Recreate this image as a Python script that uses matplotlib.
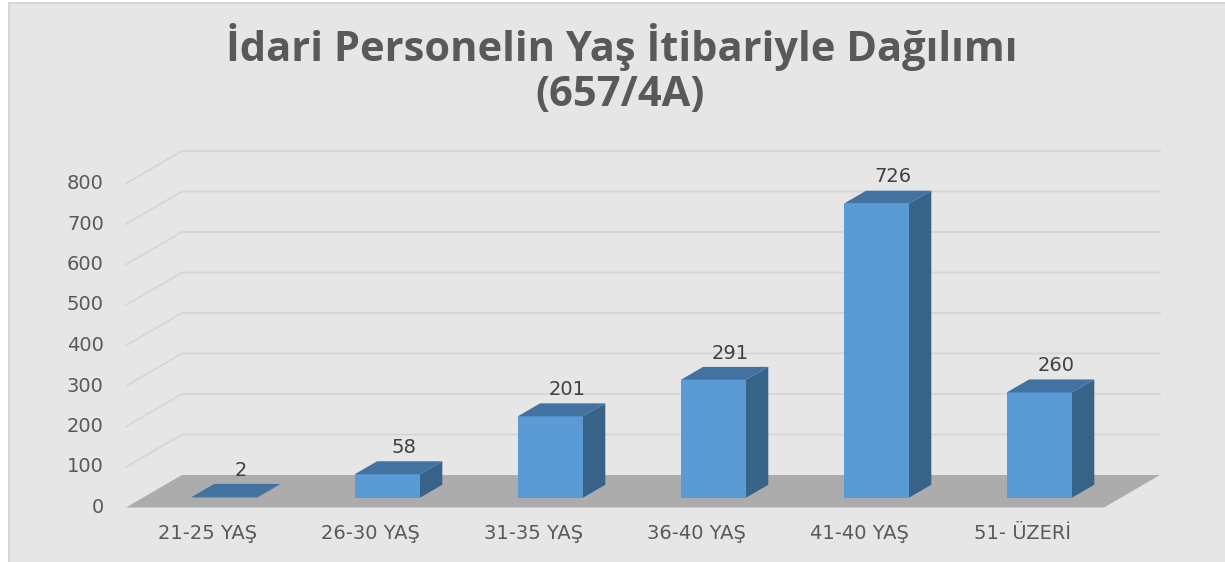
import matplotlib.pyplot as plt
from matplotlib.patches import Polygon, Rectangle

# chart data
categories = ["21-25 YAŞ", "26-30 YAŞ", "31-35 YAŞ", "36-40 YAŞ", "41-40 YAŞ", "51- ÜZERİ"]
values = [2, 58, 201, 291, 726, 260]
yticks = [0, 100, 200, 300, 400, 500, 600, 700, 800]
title_lines = ["İdari Personelin Yaş İtibariyle Dağılımı", "(657/4A)"]

W, H = 1225, 562
# layout of the pseudo-3D plot (pixels)
X0 = 126          # front-left corner of the floor
CAT_W = 163       # width of one category along the front edge
Y0 = 475          # zero line on the back wall, from top
PX_PER_UNIT = 0.405
DEPTH_X = 56 / CAT_W
DEPTH_Y = 32.5 / PX_PER_UNIT

TEXT = "#595959"
BG = "#e6e6e6"
GRID = "#d6d6d6"
FLOOR = "#acacac"
FRONT = "#5b9bd5"
SIDE = "#386388"
TOP = "#4272a0"


def proj(x, h, d):
    # oblique projection: d=0 front, d=1 back wall
    return (x + d * DEPTH_X, h - (1 - d) * DEPTH_Y)


fig = plt.figure(figsize=(W / 100, H / 100), dpi=100)
fig.patch.set_facecolor("white")
ax = fig.add_axes([0, 0, 1, 1])
ax.set_xlim(-X0 / CAT_W, (W - X0) / CAT_W)
ax.set_ylim((Y0 - H) / PX_PER_UNIT, Y0 / PX_PER_UNIT)
ax.axis("off")

ax.add_patch(Rectangle((9 / W, -0.01), 1 - 9 / W + 0.01, 1.01 - 3 / H, transform=ax.transAxes,
                       facecolor=BG, edgecolor="#d2d2d2", lw=1.2, zorder=0))

n = len(categories)

# back wall + side wall gridlines
for t in yticks[1:]:
    xs, ys = zip(proj(0, t, 0), proj(0, t, 1), proj(n, t, 1))
    ax.plot(xs, ys, color=GRID, lw=1.3, zorder=1)

# floor
ax.add_patch(Polygon([proj(0, 0, 0), proj(n, 0, 0), proj(n, 0, 1), proj(0, 0, 1)],
                     closed=True, facecolor=FLOOR, edgecolor="none", zorder=2))

# tick labels on the front edge
for t in yticks:
    ax.annotate(str(t), proj(0, t, 0), xytext=(-16, 0), textcoords="offset points",
                ha="right", va="center", fontsize=14, color=TEXT)

# bars
for i, (cat, v) in enumerate(zip(categories, values)):
    x0, x1 = i + 0.3, i + 0.7
    d0, d1 = 0.3, 0.7
    front = [proj(x0, 0, d0), proj(x1, 0, d0), proj(x1, v, d0), proj(x0, v, d0)]
    side = [proj(x1, 0, d0), proj(x1, 0, d1), proj(x1, v, d1), proj(x1, v, d0)]
    top = [proj(x0, v, d0), proj(x1, v, d0), proj(x1, v, d1), proj(x0, v, d1)]
    ax.add_patch(Polygon(side, closed=True, facecolor=SIDE, edgecolor="none", zorder=3))
    ax.add_patch(Polygon(front, closed=True, facecolor=FRONT, edgecolor="none", zorder=3))
    ax.add_patch(Polygon(top, closed=True, facecolor=TOP, edgecolor="none", zorder=3))

    ax.annotate(str(v), proj(i + 0.5, v, 0.7), xytext=(-4, 10), textcoords="offset points",
                ha="center", va="center", fontsize=14, color="#404040", zorder=4)
    ax.annotate(cat, proj(i + 0.5, 0, 0), xytext=(0, -19), textcoords="offset points",
                ha="center", va="center", fontsize=14, color=TEXT)

fig.text(622 / W, 1 - 47 / H, title_lines[0], ha="center", va="center",
         fontsize=30, fontweight="bold", color=TEXT, family="Open Sans")
fig.text(620 / W, 1 - 96 / H, title_lines[1], ha="center", va="center",
         fontsize=30, fontweight="bold", color=TEXT, family="Open Sans")

fig.savefig("out.png", dpi=100, facecolor=fig.get_facecolor())
